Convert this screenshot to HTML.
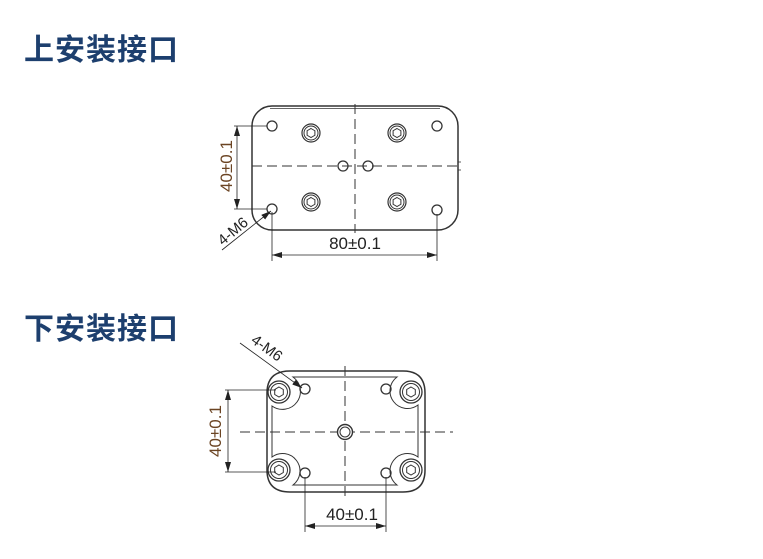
<!DOCTYPE html>
<html><head><meta charset="utf-8"><style>
html,body{margin:0;padding:0;background:#fff;width:763px;height:559px;overflow:hidden}
.t{position:absolute;left:24px;font:bold 30px "Liberation Sans","Noto Sans CJK SC",sans-serif;color:#1d3f6e;letter-spacing:1px}
</style></head><body>
<div class="t" style="top:25px">上安装接口</div>
<div class="t" style="top:304px">下安装接口</div>
<svg width="763" height="559" style="position:absolute;left:0;top:0" font-family="Liberation Sans, sans-serif">
<defs>
<marker id="a" markerWidth="10" markerHeight="6" refX="10" refY="3" orient="auto-start-reverse" markerUnits="userSpaceOnUse"><path d="M0,0L10,3L0,6z" fill="#222"/></marker>
<g id="scr"><circle r="9" fill="none" stroke="#333" stroke-width="1.2"/><circle r="7" fill="none" stroke="#333" stroke-width="1"/><path d="M0,-4.5L3.9,-2.25L3.9,2.25L0,4.5L-3.9,2.25L-3.9,-2.25z" fill="none" stroke="#333" stroke-width="1"/></g>
<g id="scr2"><circle r="11" fill="none" stroke="#333" stroke-width="1.3"/><circle r="8.5" fill="none" stroke="#333" stroke-width="1"/><path d="M0,-5L4.3,-2.5L4.3,2.5L0,5L-4.3,2.5L-4.3,-2.5z" fill="none" stroke="#333" stroke-width="1"/></g>
<g id="h"><circle r="5" fill="none" stroke="#333" stroke-width="1.3"/></g>
</defs>
<g stroke="#333" fill="none">
<rect x="252" y="106" width="206" height="124" rx="20" stroke-width="1.5"/>
<line x1="270" y1="108.5" x2="440" y2="108.5" stroke-width="0.8"/>
<line x1="355" y1="104" x2="355" y2="233" stroke-dasharray="10,5" stroke-width="1"/>
<line x1="252" y1="166" x2="462" y2="166" stroke-dasharray="10,5" stroke-width="1"/>
<line x1="458" y1="162" x2="461" y2="162" stroke-width="0.8"/><line x1="458" y1="170" x2="461" y2="170" stroke-width="0.8"/>
</g>
<use href="#h" x="272" y="126"/><use href="#h" x="437" y="126"/><use href="#h" x="272" y="209"/><use href="#h" x="437" y="210"/>
<use href="#h" x="343" y="166"/><use href="#h" x="368" y="166"/>
<use href="#scr" x="311" y="133"/><use href="#scr" x="397" y="133"/><use href="#scr" x="311" y="202"/><use href="#scr" x="397" y="202"/>
<g stroke="#222" stroke-width="0.8" fill="none">
<line x1="234" y1="126" x2="267" y2="126"/><line x1="234" y1="209" x2="267" y2="209"/>
<line x1="237" y1="126" x2="237" y2="209" marker-start="url(#a)" marker-end="url(#a)"/>
<line x1="272" y1="212" x2="272" y2="261"/><line x1="437" y1="214" x2="437" y2="261"/>
<line x1="272" y1="255" x2="437" y2="255" marker-start="url(#a)" marker-end="url(#a)"/>
<line x1="222" y1="250" x2="271" y2="211" marker-end="url(#a)"/>
</g>
<text transform="translate(232,166) rotate(-90)" text-anchor="middle" font-size="17" fill="#6b4423">40±0.1</text>
<text x="355" y="249" text-anchor="middle" font-size="17" fill="#222">80±0.1</text>
<text transform="translate(236,235) rotate(-40)" text-anchor="middle" font-size="15" fill="#222">4-M6</text>

<g stroke="#333" fill="none" stroke-width="1.5">
<path d="M290,371 L403,371 Q425,371 425,393 L425,470 Q425,492 403,492 L290,492 Q267,492 267,470 L267,393 Q267,371 290,371z"/>
<path d="M293,377 L397,377 A15,15 0 0 0 418,405 L418,457 A15,15 0 0 0 397,485 L293,485 A15,15 0 0 0 272,457 L272,406 A15,15 0 0 0 293,377 Z" stroke-width="1"/>
<line x1="345" y1="366" x2="345" y2="497" stroke-dasharray="10,5" stroke-width="1"/>
<line x1="240" y1="432" x2="453" y2="432" stroke-dasharray="10,5" stroke-width="1"/>
<circle cx="345" cy="432" r="7.5" stroke-width="1.4" fill="#fff"/><circle cx="345" cy="432" r="5" stroke-width="1"/>
</g>
<use href="#scr2" x="279" y="392"/><use href="#scr2" x="411" y="392"/><use href="#scr2" x="279" y="470"/><use href="#scr2" x="411" y="470"/>
<use href="#h" x="305" y="389"/><use href="#h" x="386" y="389"/><use href="#h" x="305" y="473"/><use href="#h" x="386" y="473"/>
<g stroke="#222" stroke-width="0.8" fill="none">
<line x1="225" y1="390" x2="276" y2="390"/><line x1="225" y1="472" x2="276" y2="472"/>
<line x1="228" y1="390" x2="228" y2="472" marker-start="url(#a)" marker-end="url(#a)"/>
<line x1="305" y1="477" x2="305" y2="532"/><line x1="386" y1="477" x2="386" y2="532"/>
<line x1="305" y1="526" x2="386" y2="526" marker-start="url(#a)" marker-end="url(#a)"/>
<line x1="240" y1="343" x2="302" y2="388" marker-end="url(#a)"/>
</g>
<text transform="translate(221,431) rotate(-90)" text-anchor="middle" font-size="17" fill="#6b4423">40±0.1</text>
<text x="352" y="520" text-anchor="middle" font-size="17" fill="#222">40±0.1</text>
<text transform="translate(264,352) rotate(36)" text-anchor="middle" font-size="15" fill="#222">4-M6</text>
</svg>
</body></html>
